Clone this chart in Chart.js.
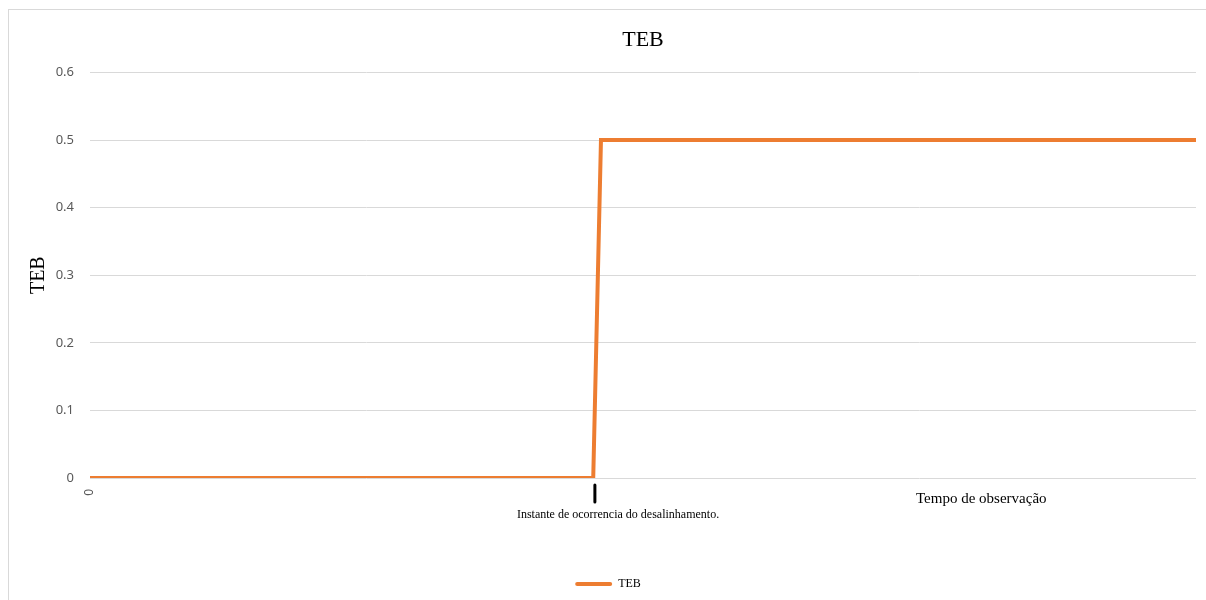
<!DOCTYPE html>
<html>
<head>
<meta charset="utf-8">
<script src="https://cdn.jsdelivr.net/npm/chart.js@4/dist/chart.umd.min.js"></script>
<style>
  html, body { margin: 0; padding: 0; background: #fff; }
  #wrap { width: 1206px; height: 600px; position: relative; }
</style>
</head>
<body>
<div id="wrap"><canvas id="c" width="1206" height="600"></canvas></div>
<script>
// Observation time (arbitrary units) and the TEB value at each instant
const times = [0, 45.5, 46.2, 100];
const tebValues = [0, 0, 0.5, 0.5];
const xTickValues = [0];
const yTickMax = 0.6;
const yTickStep = 0.1;
const eventTime = 45.65;
const eventLabel = 'Instante de ocorrencia do desalinhamento.';
const axisNote = 'Tempo de observação';
const seriesName = 'TEB';
const titleText = 'TEB';

const serif = "'Liberation Serif', 'Times New Roman', serif";
const sans = "'Noto Sans', 'Open Sans', sans-serif";
const orange = '#ED7D31';

const frameAndNotes = {
  id: 'frameAndNotes',
  beforeDraw(chart) {
    const ctx = chart.ctx;
    ctx.save();
    ctx.strokeStyle = '#d9d9d9';
    ctx.lineWidth = 1;
    ctx.strokeRect(8.5, 9.5, 1210, 600);
    ctx.restore();
  },
  afterDraw(chart) {
    const ctx = chart.ctx;
    const xs = chart.scales.x;
    const ys = chart.scales.y;
    const px = xs.getPixelForValue(eventTime);
    const base = ys.getPixelForValue(0);
    ctx.save();
    // marker under the event instant
    ctx.strokeStyle = '#000';
    ctx.lineWidth = 3;
    ctx.lineCap = 'round';
    ctx.beginPath();
    ctx.moveTo(px, base + 7);
    ctx.lineTo(px, base + 24);
    ctx.stroke();
    ctx.fillStyle = '#000';
    ctx.font = '12px ' + serif;
    ctx.textBaseline = 'middle';
    ctx.textAlign = 'left';
    ctx.fillText(eventLabel, px - 78, base + 37);
    ctx.font = '15px ' + serif;
    ctx.fillText(axisNote, 916, base + 21);
    ctx.restore();
  }
};

new Chart(document.getElementById('c'), {
  type: 'line',
  data: {
    datasets: [{
      label: seriesName,
      data: times.map((t, i) => ({ x: t, y: tebValues[i] })),
      borderColor: orange,
      backgroundColor: orange,
      borderWidth: 4,
      pointRadius: 0,
      tension: 0,
      fill: false
    }]
  },
  options: {
    responsive: false,
    animation: false,
    layout: { padding: { top: 9, left: 20, right: 10, bottom: 0 } },
    plugins: {
      title: {
        display: true,
        fullSize: false,
        text: titleText,
        color: '#000',
        font: { family: serif, size: 22, weight: 'normal' },
        padding: { top: 18, bottom: 19 }
      },
      legend: {
        display: true,
        position: 'bottom',
        labels: {
          color: '#000',
          font: { family: serif, size: 12 },
          boxWidth: 37,
          boxHeight: 4,
          padding: 10,
          generateLabels(chart) {
            return chart.data.datasets.map((ds, i) => ({
              text: ds.label,
              fillStyle: ds.borderColor,
              strokeStyle: ds.borderColor,
              lineWidth: 0,
              borderRadius: 2,
              datasetIndex: i
            }));
          }
        }
      },
      tooltip: { enabled: false }
    },
    scales: {
      x: {
        type: 'linear',
        min: times[0],
        max: times[times.length - 1],
        afterBuildTicks(scale) { scale.ticks = xTickValues.map(v => ({ value: v })); },
        afterFit(scale) { scale.height = 90; },
        grid: { display: false },
        border: { display: false },
        ticks: {
          color: '#595959',
          font: { family: sans, size: 12 },
          minRotation: 90,
          maxRotation: 90,
          padding: 3
        }
      },
      y: {
        min: 0,
        max: yTickMax,
        afterFit(scale) { scale.width = 70; },
        grid: { color: '#d9d9d9', lineWidth: 1, drawTicks: false },
        border: { display: false },
        ticks: {
          stepSize: yTickStep,
          color: '#595959',
          font: { family: sans, size: 13 },
          padding: 16
        },
        title: {
          display: true,
          text: titleText,
          color: '#000',
          font: { family: serif, size: 20 },
          padding: { top: 7, bottom: 0 }
        }
      }
    }
  },
  plugins: [frameAndNotes]
});
</script>
</body>
</html>
